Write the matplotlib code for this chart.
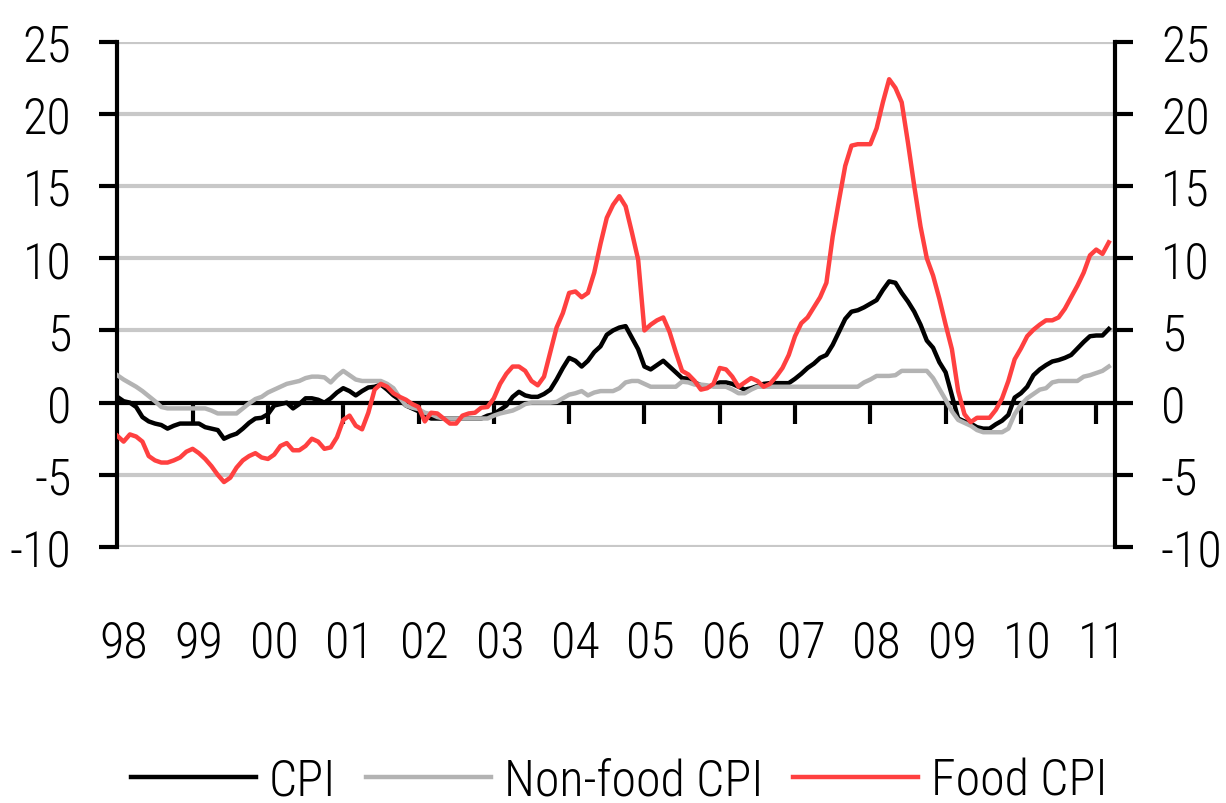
import numpy as np
import matplotlib.pyplot as plt
import matplotlib.transforms as mtransforms
from matplotlib import font_manager

# pick a narrow sans font if one is installed
names = {f.name for f in font_manager.fontManager.ttflist}
narrow = None
for cand in ['Liberation Sans Narrow', 'Arial Narrow', 'Roboto Condensed', 'Open Sans Condensed',
             'DejaVu Sans Condensed', 'Noto Sans Condensed']:
    if cand in names:
        narrow = cand
        break
if narrow:
    plt.rcParams['font.family'] = [narrow, 'DejaVu Sans']
else:
    plt.rcParams['font.family'] = ['DejaVu Sans']
    plt.rcParams['font.stretch'] = 'condensed'
plt.rcParams['font.weight'] = 'light'
plt.rcParams['axes.unicode_minus'] = False

# monthly data, Jan 1998 - Mar 2011 (% y/y)
cpi = [
    0.4, 0.1, 0.0, -0.3, -1.0, -1.3, -1.45, -1.55, -1.8, -1.6, -1.45, -1.45,   # 1998
    -1.45, -1.45, -1.7, -1.8, -1.9, -2.5, -2.3, -2.15, -1.8, -1.4, -1.1, -1.05,  # 1999
    -0.8, -0.2, -0.1, 0.0, -0.4, -0.1, 0.3, 0.3, 0.2, 0.0, 0.3, 0.7,       # 2000
    1.0, 0.8, 0.5, 0.8, 1.05, 1.1, 1.25, 0.9, 0.5, 0.2, -0.2, -0.4,        # 2001
    -0.6, -0.9, -1.1, -1.1, -1.1, -1.1, -1.1, -1.1, -1.1, -1.1, -1.1, -0.9,  # 2002
    -0.8, -0.5, -0.2, 0.4, 0.75, 0.5, 0.4, 0.4, 0.6, 0.9, 1.6, 2.4,        # 2003
    3.1, 2.9, 2.5, 2.9, 3.5, 3.9, 4.7, 5.0, 5.2, 5.3, 4.5, 3.7,            # 2004
    2.5, 2.3, 2.6, 2.9, 2.5, 2.1, 1.7, 1.65, 1.4, 1.2, 1.1, 1.2,           # 2005
    1.4, 1.4, 1.3, 1.1, 0.9, 1.0, 1.15, 1.3, 1.35, 1.35, 1.35, 1.35,       # 2006
    1.65, 2.0, 2.4, 2.7, 3.1, 3.3, 4.0, 4.9, 5.8, 6.3, 6.4, 6.6,           # 2007
    6.85, 7.1, 7.8, 8.4, 8.3, 7.6, 7.0, 6.3, 5.4, 4.3, 3.8, 2.8,           # 2008
    2.1, 0.5, -1.1, -1.3, -1.45, -1.7, -1.8, -1.8, -1.5, -1.25, -0.85, 0.35,  # 2009
    0.65, 1.1, 1.9, 2.3, 2.6, 2.85, 2.95, 3.1, 3.3, 3.75, 4.2, 4.6,        # 2010
    4.65, 4.65, 5.1,                                                     # 2011
]

non_food = [
    1.9, 1.6, 1.35, 1.1, 0.8, 0.45, 0.1, -0.3, -0.4, -0.4, -0.4, -0.4,
    -0.4, -0.4, -0.4, -0.55, -0.75, -0.75, -0.75, -0.75, -0.4, -0.05, 0.25, 0.4,
    0.7, 0.9, 1.1, 1.3, 1.4, 1.5, 1.7, 1.8, 1.8, 1.75, 1.4, 1.85,
    2.2, 1.9, 1.6, 1.5, 1.5, 1.5, 1.5, 1.3, 1.0, 0.35, -0.2, -0.35,
    -0.45, -0.7, -0.8, -1.0, -1.1, -1.1, -1.1, -1.1, -1.1, -1.1, -1.1, -1.1,
    -0.9, -0.75, -0.65, -0.55, -0.35, -0.1, 0.0, 0.0, 0.0, 0.0, 0.05, 0.3,
    0.55, 0.65, 0.8, 0.5, 0.7, 0.8, 0.8, 0.8, 1.0, 1.4, 1.5, 1.5,
    1.3, 1.1, 1.1, 1.1, 1.1, 1.1, 1.45, 1.4, 1.25, 1.25, 1.2, 1.1,
    1.1, 1.1, 0.9, 0.65, 0.65, 0.9, 1.1, 1.1, 1.1, 1.1, 1.1, 1.1,
    1.1, 1.1, 1.1, 1.1, 1.1, 1.1, 1.1, 1.1, 1.1, 1.1, 1.1, 1.4,
    1.6, 1.85, 1.85, 1.85, 1.9, 2.2, 2.2, 2.2, 2.2, 2.2, 1.7, 0.95,
    0.2, -0.6, -1.2, -1.4, -1.6, -1.9, -2.05, -2.05, -2.05, -2.05, -1.8, -0.8,
    -0.15, 0.3, 0.6, 0.9, 1.0, 1.4, 1.5, 1.5, 1.5, 1.5, 1.8, 1.9,
    2.05, 2.2, 2.5,
]

food = [
    -2.3, -2.7, -2.2, -2.35, -2.7, -3.7, -4.0, -4.15, -4.15, -4.0, -3.8, -3.4,
    -3.2, -3.5, -3.9, -4.4, -5.0, -5.5, -5.2, -4.5, -4.0, -3.7, -3.5, -3.8,
    -3.9, -3.6, -3.0, -2.8, -3.3, -3.3, -3.0, -2.5, -2.7, -3.2, -3.1, -2.4,
    -1.2, -0.9, -1.6, -1.85, -0.7, 0.9, 1.3, 1.1, 0.65, 0.4, 0.2, -0.1,
    -0.3, -1.3, -0.7, -0.75, -1.1, -1.45, -1.45, -0.9, -0.75, -0.7, -0.35, -0.3,
    0.3, 1.3, 2.0, 2.5, 2.5, 2.2, 1.5, 1.2, 1.8, 3.5, 5.2, 6.2,
    7.6, 7.7, 7.3, 7.6, 9.0, 11.0, 12.8, 13.7, 14.3, 13.6, 11.8, 9.9,
    5.0, 5.4, 5.7, 5.9, 4.9, 3.5, 2.2, 1.95, 1.5, 0.9, 1.0, 1.3,
    2.4, 2.3, 1.8, 1.1, 1.4, 1.7, 1.5, 1.1, 1.3, 1.8, 2.4, 3.3,
    4.6, 5.5, 5.9, 6.6, 7.3, 8.3, 11.5, 14.0, 16.4, 17.8, 17.9, 17.9,
    17.9, 19.0, 20.8, 22.4, 21.8, 20.8, 18.0, 15.0, 12.2, 10.0, 8.8, 7.2,
    5.4, 3.7, 0.8, -0.8, -1.35, -1.05, -1.05, -1.05, -0.5, 0.3, 1.5, 3.0,
    3.75, 4.6, 5.05, 5.4, 5.7, 5.7, 5.9, 6.5, 7.3, 8.1, 9.0, 10.2,
    10.6, 10.3, 11.1,
]

years = ['98', '99', '00', '01', '02', '03', '04', '05', '06', '07', '08', '09', '10', '11']
y_ticks = [-10, -5, 0, 5, 10, 15, 20, 25]

fig = plt.figure(figsize=(12.26, 8.04), dpi=100)
ax = fig.add_axes([0.0957, 0.3184, 0.8138, 0.6285])

m = np.arange(len(cpi))
ax.plot(m, cpi, color='black', lw=3.2, label='CPI', zorder=3)
ax.plot(m, non_food, color='#b3b3b3', lw=3.2, label='Non-food CPI', zorder=3)
ax.plot(m, food, color='#ff4040', lw=3.2, label='Food CPI', zorder=3)

ax.set_xlim(0, 159)
ax.set_ylim(-10, 25)
ax.set_yticks(y_ticks)
ax.grid(axis='y', color='#c8c8c8', lw=3)
ax.set_axisbelow(True)

ax.spines['top'].set_visible(False)
for s in ['left', 'right', 'bottom']:
    ax.spines[s].set_linewidth(3)
ax.spines['bottom'].set_position(('data', 0))
ax.spines['bottom'].set_zorder(2.5)

ax.tick_params(axis='y', which='both', left=True, right=True, labelleft=True, labelright=True,
               direction='out', length=13, width=3, pad=20, labelsize=36)
ax.set_xticks([12 * k for k in range(1, len(years))])
ax.tick_params(axis='x', direction='out', length=15, width=3, labelbottom=False)

# year labels under the plot
trans = mtransforms.blended_transform_factory(ax.transData, ax.transAxes)
for k, yr in enumerate(years):
    ax.text(12 * k + 1, -0.19, yr, transform=trans, ha='center', va='center', fontsize=36)

fig.legend(loc='lower center', bbox_to_anchor=(0.505, -0.058), ncol=3, frameon=False,
           fontsize=36, handlelength=2.5, handletextpad=0.25, columnspacing=0.6)

fig.savefig('out.png', dpi=100)
